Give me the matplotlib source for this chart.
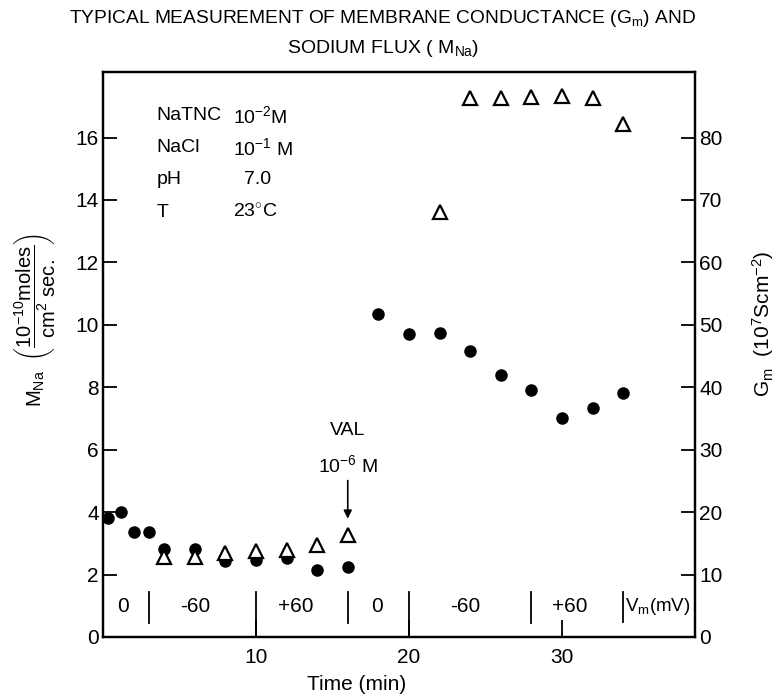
import matplotlib
matplotlib.use("Agg")
import matplotlib.pyplot as plt

plt.rcParams['font.family'] = ['Liberation Sans', 'DejaVu Sans']
plt.rcParams['mathtext.fontset'] = 'custom'
plt.rcParams['mathtext.rm'] = 'Liberation Sans'
plt.rcParams['mathtext.it'] = 'Liberation Sans'
plt.rcParams['mathtext.bf'] = 'Liberation Sans'

# sodium flux M_Na (left axis), filled circles
circ_t = [0.3, 1.2, 2, 3, 4, 6, 8, 10, 12, 14, 16, 18, 20, 22, 24, 26, 28, 30, 32, 34]
circ_m = [3.8, 4.0, 3.35, 3.35, 2.82, 2.82, 2.42, 2.47, 2.52, 2.13, 2.25,
          10.35, 9.7, 9.75, 9.15, 8.4, 7.9, 7.0, 7.35, 7.8]

# membrane conductance G_m (right axis), open triangles
tri_t = [4, 6, 8, 10, 12, 14, 16, 22, 24, 26, 28, 30, 32, 34]
tri_g = [12.8, 12.8, 13.5, 13.7, 13.9, 14.7, 16.3, 68.0, 86.4, 86.3, 86.5, 86.6, 86.4, 82.2]

# clamp voltage segments along the bottom
vm_labels = ['0', '-60', '+60', '0', '-60', '+60']
vm_label_t = [1.3, 6.0, 12.6, 17.9, 23.7, 30.5]
vm_bounds_short = [3, 16, 28]
vm_bounds_long = [10, 20]

cond_names = ['NaTNC', 'NaCl', 'pH', 'T']
cond_values = [r'10$^{-2}$M', r'10$^{-1}$ M', '7.0', r'23$^{\circ}$C']

fig = plt.figure(figsize=(7.79, 6.96), dpi=100)
ax = fig.add_axes([0.1322, 0.0848, 0.7600, 0.8118])
ax2 = ax.twinx()

ylim_top = 18.1
ax.set_xlim(0, 38.7)
ax.set_ylim(0, ylim_top)
ax2.set_ylim(0, ylim_top * 5)

ax.plot(circ_t, circ_m, 'o', color='black', ms=8, clip_on=False, zorder=5)
ax2.plot(tri_t, tri_g, '^', mfc='white', mec='black', mew=1.6, ms=10, zorder=5)

for a in (ax, ax2):
    for s in a.spines.values():
        s.set_linewidth(1.6)

ax.set_xticks([10, 20, 30])
ax.set_xticklabels(['10', '20', '30'])
ax.set_yticks(range(0, 17, 2))
ax.tick_params(axis='x', direction='in', length=12, width=1.3, labelsize=15, pad=8)
ax.tick_params(axis='y', direction='in', length=10, width=1.3, labelsize=15, pad=3)
ax2.set_yticks(range(0, 81, 10))
ax2.tick_params(axis='y', direction='in', length=10, width=1.3, labelsize=15, pad=3)

# voltage segment markers
for t in vm_bounds_short:
    ax.plot([t, t], [0.45, 1.45], color='black', lw=1.3)
for t in vm_bounds_long:
    ax.plot([t, t], [0, 1.45], color='black', lw=1.3)
ax.plot([34, 34], [0.48, 1.45], color='black', lw=1.3)
for lab, t in zip(vm_labels, vm_label_t):
    ax.text(t, 0.97, lab, ha='center', va='center', fontsize=15)
ax.text(34.1, 0.97, r'V$_{\rm m}$(mV)', ha='left', va='center', fontsize=13.5)

# experimental conditions
for i, (nm, val) in enumerate(zip(cond_names, cond_values)):
    y = 16.7 - i * 1.03
    ax.text(3.5, y, nm, ha='left', va='center', fontsize=14)
    if val == '7.0':
        ax.text(10.1, y, val, ha='center', va='center', fontsize=14)
    else:
        ax.text(8.5, y, val, ha='left', va='center', fontsize=14)

# valinomycin addition
ax.text(16, 6.6, 'VAL', ha='center', va='center', fontsize=14)
ax.text(16, 5.5, r'10$^{-6}$ M', ha='center', va='center', fontsize=14)
ax.annotate('', xy=(16, 3.7), xytext=(16, 5.1),
            arrowprops=dict(arrowstyle='-|>', color='black', lw=1.2, mutation_scale=12))

fig.text(0.458, 0.016, 'Time (min)', ha='center', va='center', fontsize=15)

fig.text(0.045, 0.54,
         r'M$_{\rm Na}$  $\left(\dfrac{10^{-10}\rm moles}{\rm cm^2\ sec.}\right)$',
         rotation=90, ha='center', va='center', fontsize=14.5)
fig.text(0.98, 0.535, r'G$_{\rm m}$  (10$^7$Scm$^{-2}$)',
         rotation=90, ha='center', va='center', fontsize=15)

fig.text(0.4917, 0.974, r'TYPICAL MEASUREMENT OF MEMBRANE CONDUCTANCE (G$_{\rm m}$) AND',
         ha='center', va='center', fontsize=13.8)
fig.text(0.4917, 0.930, r'SODIUM FLUX ( M$_{\rm Na}$)',
         ha='center', va='center', fontsize=14)

fig.savefig('out.png', dpi=100)
